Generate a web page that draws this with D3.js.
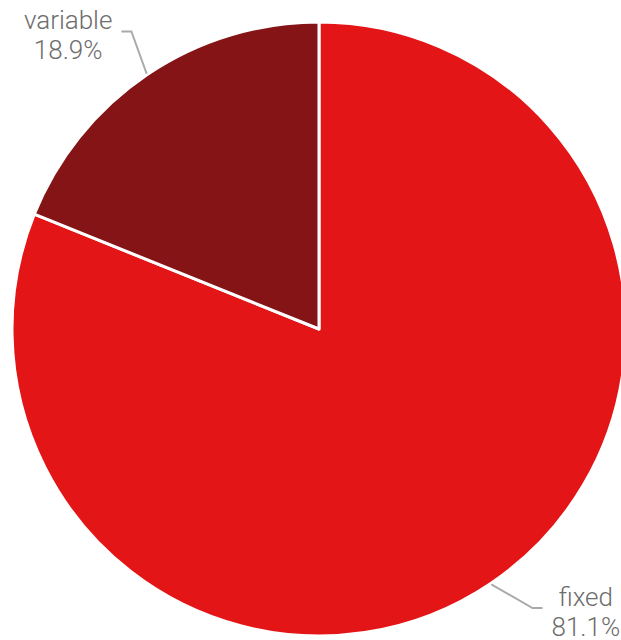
<!DOCTYPE html>
<html>
<head>
<meta charset="utf-8">
<script src="https://cdn.jsdelivr.net/npm/d3@7"></script>
<style>
  body { margin: 0; background: #fff; }
  text { font-family: Roboto, "Noto Sans", sans-serif; font-weight: 300; }
</style>
</head>
<body>
<div id="root"></div>
<script>
const w = 621, h = 640

// data
const categories = ["fixed", "variable"]
const values = [81.1, 18.9]
const colors = ["#e41517", "#841416"]

const cx = 319, cy = 329, radius = 307
const lineR = 355

const svg = d3.select("#root").append("svg")
    .attr("width", w)
    .attr("height", h)

const g = svg.append("g").attr("transform", `translate(${cx},${cy})`)

const pie = d3.pie().sort(null).value(d => d.value)
const data = categories.map((c, i) => ({name: c, value: values[i], color: colors[i]}))
const arcs = pie(data)

const arc = d3.arc().innerRadius(0).outerRadius(radius)

g.selectAll("path.slice")
    .data(arcs)
    .enter()
    .append("path")
    .attr("class", "slice")
    .attr("d", arc)
    .attr("fill", d => d.data.color)
    .attr("stroke", "white")
    .attr("stroke-width", 3)
    .attr("stroke-linejoin", "round")

// labels with leader lines (kept inside the chart's top/bottom)
const yMin = 29 - cy, yMax = 608 - cy
arcs.forEach(d => {
    const mid = (d.startAngle + d.endAngle) / 2
    const sx = Math.sin(mid) * (radius + 1), sy = -Math.cos(mid) * (radius + 1)
    let ey = -Math.cos(mid) * (lineR + 4)
    ey = Math.max(yMin, Math.min(yMax, ey))
    const side = Math.sin(mid) >= 0 ? 1 : -1
    const ex = side * Math.sqrt(lineR * lineR - ey * ey) - side * 6
    const hx = ex + side * 10

    g.append("polyline")
        .attr("points", [[sx, sy], [ex, ey], [hx, ey]].map(p => p.join(",")).join(" "))
        .attr("fill", "none")
        .attr("stroke", "#aaaaaa")
        .attr("stroke-width", 2)

    const t = g.append("text")
        .attr("font-size", 26)
        .attr("fill", "#6d6d6d")
        .attr("text-anchor", "middle")
    const l1 = t.append("tspan").text(d.data.name)
    const l2 = t.append("tspan").text(d3.format(".1f")(d.data.value) + "%")
    const wMax = Math.max(l1.node().getComputedTextLength(), l2.node().getComputedTextLength())
    const tx = hx + side * (9 + wMax / 2)
    l1.attr("x", tx).attr("y", ey - 2)
    l2.attr("x", tx).attr("y", ey + 28)
})
</script>
</body>
</html>
